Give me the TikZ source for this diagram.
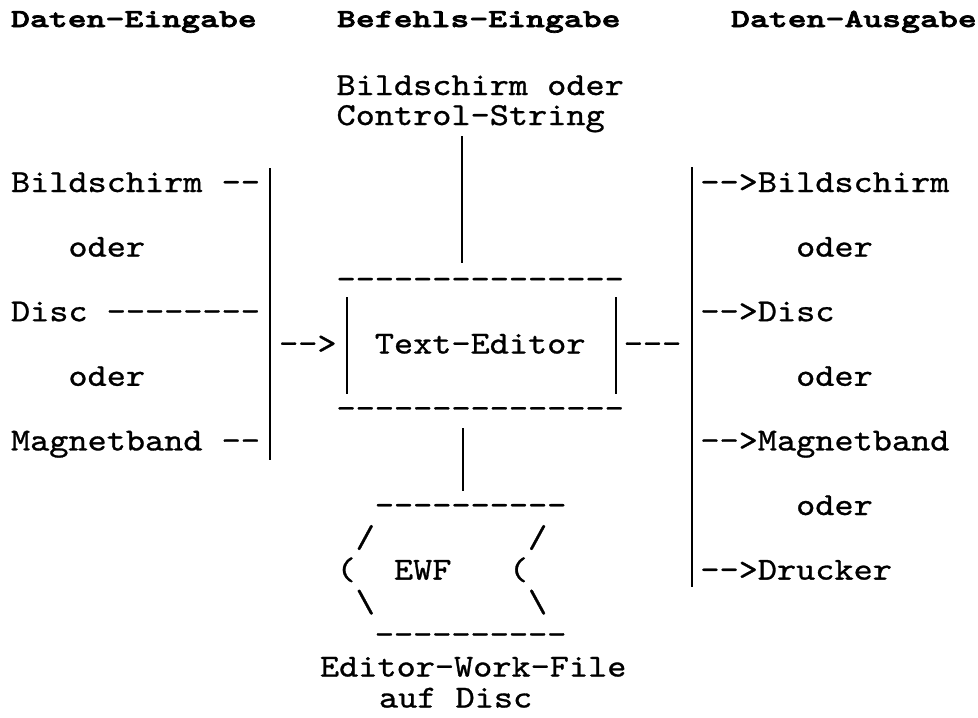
\documentclass[tikz,border=0pt]{standalone}
\usepackage{fontspec}
\newfontfamily\bodyfont[Ligatures=TeXOff,FakeStretch=1.14,FakeBold=0.9]{lmmono10-regular.otf}
\newfontfamily\headfont[Ligatures=TeXOff,FakeStretch=1.385,FakeBold=2.6]{lmmonolt10-bold.otf}
\tikzset{
  txt/.style={anchor=base west, inner sep=0pt, outer sep=0pt, font=\bodyfont\fontsize{32}{32}\selectfont},
  hdr/.style={anchor=base west, inner sep=0pt, outer sep=0pt, font=\headfont\fontsize{26}{26}\selectfont},
  bar/.style={line width=2pt, line cap=butt}
}
\begin{document}
\begin{tikzpicture}[x=1pt,y=-1pt]
\useasboundingbox[fill=white] (0,0) rectangle (978,718);
% headers
\node[hdr] (h1) at (11,27) {Daten-Eingabe};
\node[hdr] (h2) at (337,27) {Befehls-Eingabe};
\node[hdr] (h3) at (731,27) {Daten-Ausgabe};
% command input
\node[txt] (bso) at (336.55,95) {Bildschirm oder};
\node[txt] (cs) at (336.55,125) {Control-String};
% left column
\node[txt] (lin1) at (11,192) {Bildschirm --};
\node[txt] (lod1) at (68.45,256.6) {oder};
\node[txt] (lin2) at (11,321.2) {Disc --------};
\node[txt] (lod2) at (68.45,385.8) {oder};
\node[txt] (lin3) at (11,450.4) {Magnetband --};
% text editor box
\node[txt] (arrL) at (279.1,353.5) {-->};
\node[txt] (boxT) at (336.55,288.9) {---------------};
\node[txt] (te) at (374.85,353.5) {Text-Editor};
\node[txt] (boxB) at (336.55,418.1) {---------------};
\node[txt] (arrR) at (623.8,353.5) {---};
% right column
\node[txt] (out1) at (700.4,192) {-->Bildschirm};
\node[txt] (rod1) at (796.15,256.6) {oder};
\node[txt] (out2) at (700.4,321.2) {-->Disc};
\node[txt] (rod2) at (796.15,385.8) {oder};
\node[txt] (out3) at (700.4,450.4) {-->Magnetband};
\node[txt] (rod3) at (796.15,515) {oder};
\node[txt] (out4) at (700.4,579.6) {-->Drucker};
% EWF
\node[txt] (ewfT) at (374.85,515) {----------};
\node[txt] (sl1) at (355.7,547.3) {/};
\node[txt] (sl2) at (528.05,547.3) {/};
\node[txt] (pa1) at (336.55,579.6) {(};
\node[txt] (ewf) at (394,579.6) {EWF};
\node[txt] (pa2) at (508.9,579.6) {(};
\node[txt] (bs1) at (355.7,611.9) {\textbackslash};
\node[txt] (bs2) at (528.05,611.9) {\textbackslash};
\node[txt] (ewfB) at (374.85,644.2) {----------};
\node[txt] (ewl1) at (320,676.5) {Editor-Work-File};
\node[txt] (ewl2) at (379,707.5) {auf Disc};
% vertical lines
\coordinate (lbT) at (269.5,168);
\coordinate (lbB) at (269.5,460);
\coordinate (tlT) at (462,136);
\coordinate (tlB) at (462,263);
\coordinate (blT) at (347,297);
\coordinate (blB) at (347,394);
\coordinate (brT) at (616,297);
\coordinate (brB) at (616,394);
\coordinate (dlT) at (463,428);
\coordinate (dlB) at (463,491);
\coordinate (rbT) at (692,167);
\coordinate (rbB) at (692,587);
\draw[bar] (lbT) -- (lbB);
\draw[bar] (tlT) -- (tlB);
\draw[bar] (blT) -- (blB);
\draw[bar] (brT) -- (brB);
\draw[bar] (dlT) -- (dlB);
\draw[bar] (rbT) -- (rbB);
\end{tikzpicture}
\end{document}
